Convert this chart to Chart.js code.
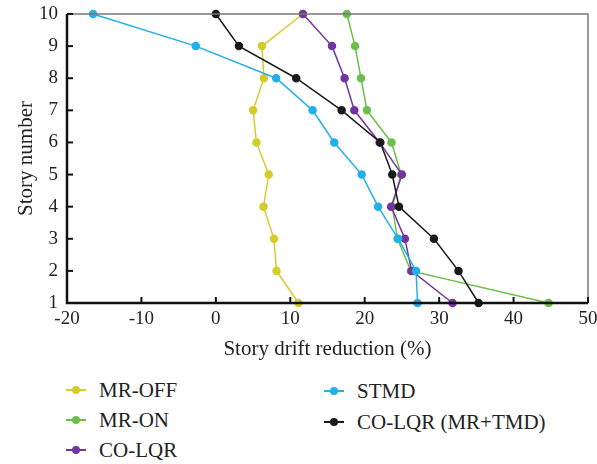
<!DOCTYPE html>
<html>
<head>
<meta charset="utf-8">
<script src="https://cdn.jsdelivr.net/npm/chart.js@4.4.0/dist/chart.umd.min.js"></script>
<style>
  body { margin: 0; background: #fff; font-family: "Liberation Serif", serif; }
  #wrap { position: relative; width: 597px; height: 464px; }
  #box { position: absolute; left: 0; top: 0; width: 597px; height: 370px; }
  .leg { position: absolute; font-size: 21px; color: #222; line-height: 24px; white-space: nowrap; }
  .leg .ln { position: absolute; left: 0; top: 11px; width: 20px; height: 2px; }
  .leg .dt { position: absolute; left: 6px; top: 8px; width: 8px; height: 8px; border-radius: 50%; }
  .leg .tx { position: absolute; left: 33px; top: 0; }
</style>
</head>
<body>
<div id="wrap">
  <div id="box"><canvas id="chart"></canvas></div>
  <div id="legend"></div>
</div>
<script>
const stories = [10, 9, 8, 7, 6, 5, 4, 3, 2, 1];
const mrOff  = [11.7, 6.2, 6.45, 5.0, 5.45, 7.1, 6.4, 7.8, 8.15, 11.1];
const mrOn   = [17.6, 18.7, 19.5, 20.3, 23.6, 24.9, 23.7, 24.4, 26.2, 44.7];
const coLqr  = [11.7, 15.6, 17.3, 18.6, 22.0, 25.0, 23.55, 25.4, 26.3, 31.8];
const stmd   = [-16.5, -2.7, 8.1, 13.0, 15.9, 19.6, 21.8, 24.5, 26.9, 27.1];
const coLqrMrTmd = [0, 3.1, 10.8, 16.9, 22.1, 23.7, 24.6, 29.3, 32.6, 35.3];

const xTicks = [-20, -10, 0, 10, 20, 30, 40, 50];
const yTicks = [1, 2, 3, 4, 5, 6, 7, 8, 9, 10];

const series = [
    {label: 'MR-OFF', data: mrOff, color: '#d4cc2c'},
    {label: 'MR-ON', data: mrOn, color: '#6cc04a'},
    {label: 'CO-LQR', data: coLqr, color: '#7434a0'},
    {label: 'STMD', data: stmd, color: '#22b0e8'},
    {label: 'CO-LQR (MR+TMD)', data: coLqrMrTmd, color: '#1a1a1a'}
];

const toPoints = (vals) => vals.map((v, i) => ({x: v, y: stories[i]}));

// frame + inward tick marks
const framePlugin = {
    id: 'frame',
    afterDraw(chart) {
        const ctx = chart.ctx; const a = chart.chartArea;
        const xs = chart.scales.x; const ys = chart.scales.y;
        ctx.save();
        ctx.strokeStyle = '#777'; ctx.lineWidth = 1.5;
        ctx.beginPath();
        ctx.moveTo(a.left, a.top); ctx.lineTo(a.right, a.top); ctx.lineTo(a.right, a.bottom);
        ctx.stroke();
        ctx.strokeStyle = '#111'; ctx.lineWidth = 2.5;
        ctx.beginPath();
        ctx.moveTo(a.left, a.top); ctx.lineTo(a.left, a.bottom); ctx.lineTo(a.right, a.bottom);
        ctx.stroke();
        ctx.lineWidth = 2;
        for (let t of xTicks) {
            const px = xs.getPixelForValue(t);
            ctx.beginPath(); ctx.moveTo(px, a.bottom); ctx.lineTo(px, a.bottom - 6); ctx.stroke();
        }
        for (let t of yTicks) {
            const py = ys.getPixelForValue(t);
            ctx.beginPath(); ctx.moveTo(a.left, py); ctx.lineTo(a.left + 6, py); ctx.stroke();
        }
        ctx.restore();
    }
};

const config = {
    type: 'scatter',
    data: {
        datasets: series.map((s, i) => ({
            label: s.label,
            data: toPoints(s.data),
            showLine: true,
            order: series.length - i,
            borderColor: s.color,
            backgroundColor: s.color,
            pointBackgroundColor: s.color,
            pointBorderColor: s.color,
            pointRadius: 3.5,
            borderWidth: 1.5,
            clip: false
        }))
    },
    options: {
        responsive: true,
        maintainAspectRatio: false,
        animation: false,
        layout: {padding: {left: 0, right: 9, top: 14, bottom: 0}},
        plugins: {legend: {display: false}, tooltip: {enabled: false}},
        scales: {
            x: {
                type: 'linear', min: -20, max: 50,
                afterBuildTicks: (axis) => { axis.ticks = xTicks.map(v => ({value: v})); },
                afterFit: (axis) => { axis.height = 67; axis.paddingLeft = 0; axis.paddingRight = 0; },
                grid: {display: false, drawTicks: false, tickLength: 0},
                border: {display: false},
                ticks: {color: '#222', font: {family: 'Liberation Serif', size: 19}, padding: 5},
                title: {display: true, text: 'Story drift reduction (%)', color: '#222',
                        font: {family: 'Liberation Serif', size: 21}, padding: {top: 0, bottom: 8}}
            },
            y: {
                type: 'linear', min: 1, max: 10,
                afterBuildTicks: (axis) => { axis.ticks = yTicks.map(v => ({value: v})); },
                afterFit: (axis) => { axis.width = 67; axis.paddingTop = 0; axis.paddingBottom = 0; },
                grid: {display: false, drawTicks: false, tickLength: 0},
                border: {display: false},
                ticks: {color: '#222', font: {family: 'Liberation Serif', size: 19}, padding: 9},
                title: {display: true, text: 'Story number', color: '#222',
                        font: {family: 'Liberation Serif', size: 21}, padding: {top: 14, bottom: 0}}
            }
        }
    },
    plugins: [framePlugin]
};

new Chart(document.getElementById('chart'), config);

// legend in two columns
const legend = document.getElementById('legend');
const legendPos = [[66, 378], [66, 408], [66, 438], [324, 379], [324, 410]];
series.forEach((s, i) => {
    const d = document.createElement('div');
    d.className = 'leg';
    d.style.left = legendPos[i][0] + 'px';
    d.style.top = legendPos[i][1] + 'px';
    d.innerHTML = `<span class="ln" style="background:${s.color}"></span><span class="dt" style="background:${s.color}"></span><span class="tx">${s.label}</span>`;
    legend.appendChild(d);
});
</script>
</body>
</html>
